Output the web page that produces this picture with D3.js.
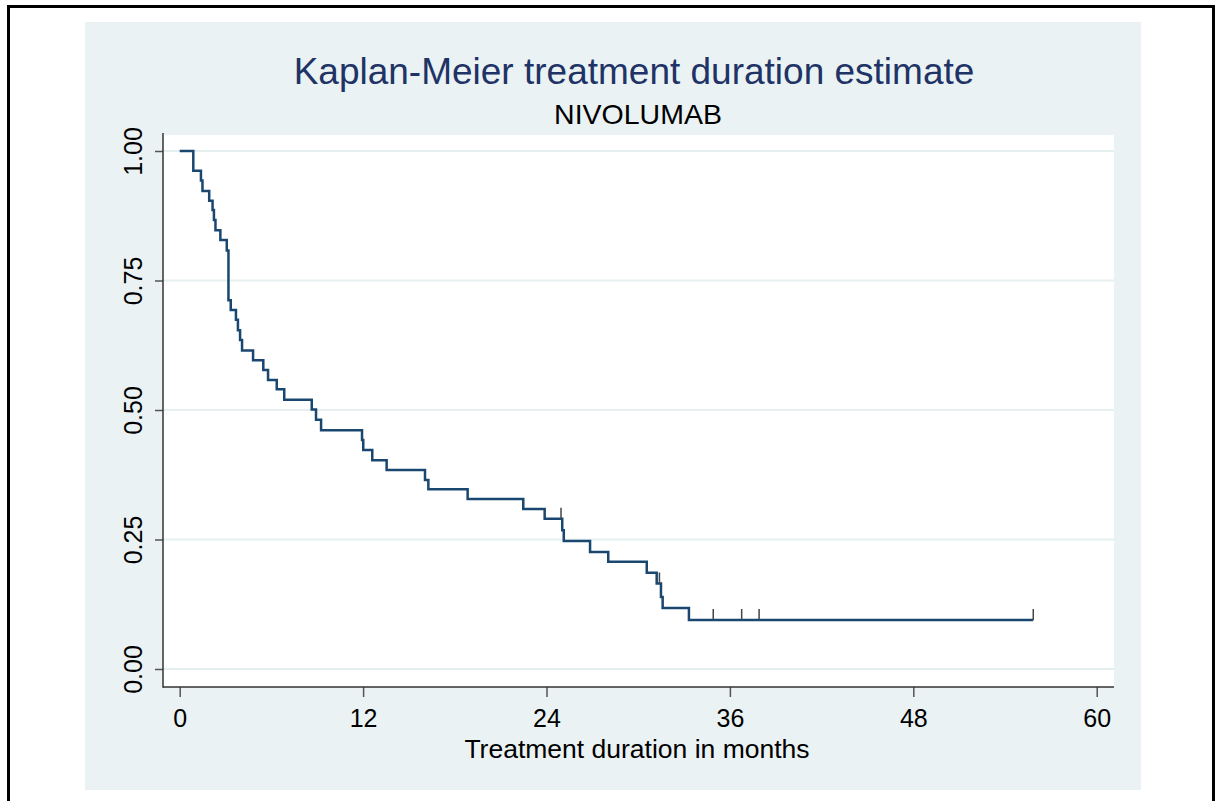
<!DOCTYPE html>
<html>
<head>
<meta charset="utf-8">
<script src="https://cdn.jsdelivr.net/npm/d3@7"></script>
<style>
  body { margin: 0; background: #fff; }
  svg text { font-family: "Liberation Sans", Arial, sans-serif; }
</style>
</head>
<body>
<div id="chart"></div>
<script>
// KM step data (months, survival after the drop)
var eventTimes = [0.89, 1.39, 1.49, 1.93, 2.15, 2.24, 2.34, 2.66, 3.08, 3.19,
  3.34, 3.68, 3.81, 3.95, 4.08, 4.80, 5.47, 5.78, 6.35, 6.84,
  8.64, 8.92, 9.25, 11.93, 12.01, 12.60, 13.54, 16.05, 16.27, 18.84,
  22.48, 23.88, 25.03, 25.13, 26.85, 28.04, 30.56, 31.21, 31.49, 31.60, 33.32];
var survival = [0.962, 0.943, 0.923, 0.904, 0.886, 0.867, 0.847, 0.828, 0.808, 0.712,
  0.693, 0.674, 0.654, 0.635, 0.615, 0.596, 0.577, 0.558, 0.540, 0.520,
  0.501, 0.481, 0.461, 0.442, 0.423, 0.403, 0.384, 0.365, 0.347, 0.328,
  0.309, 0.290, 0.268, 0.247, 0.226, 0.207, 0.186, 0.165, 0.139, 0.118, 0.0946];
var censorTimes = [24.95, 31.39, 34.91, 36.77, 37.91, 55.85];

var xTicks = [0, 12, 24, 36, 48, 60];
var yTicks = [0, 0.25, 0.5, 0.75, 1];

var titleText = "Kaplan-Meier treatment duration estimate";
var subtitleText = "NIVOLUMAB";
var xLabel = "Treatment duration in months";

var svgWidth = 1224;
var svgHeight = 801;

var svg = d3.select("#chart")
  .append("svg")
  .attr("width", svgWidth)
  .attr("height", svgHeight);

// outer frame + graph region
svg.append("rect")
  .attr("x", 8.5).attr("y", 6.5)
  .attr("width", 1205).attr("height", 800)
  .attr("fill", "#fff")
  .attr("stroke", "#000")
  .attr("stroke-width", 3);

svg.append("rect")
  .attr("x", 85).attr("y", 22)
  .attr("width", 1056).attr("height", 768)
  .attr("fill", "#eaf2f3");

var plot = { left: 163, right: 1114, top: 135, bottom: 687 };

svg.append("rect")
  .attr("x", plot.left).attr("y", plot.top)
  .attr("width", plot.right - plot.left)
  .attr("height", plot.bottom - plot.top)
  .attr("fill", "#fff");

var x = d3.scaleLinear().domain([0, 60]).range([179.7, 1096.7]);
var y = d3.scaleLinear().domain([0, 1]).range([669, 151]);

// gridlines
svg.append("g")
  .selectAll("line")
  .data(yTicks)
  .enter()
  .append("line")
  .attr("x1", plot.left).attr("x2", plot.right)
  .attr("y1", d => y(d)).attr("y2", d => y(d))
  .attr("stroke", "#e6eff0")
  .attr("stroke-width", 2);

// axes
var leftAxis = d3.axisLeft(y).tickValues(yTicks).tickFormat(d3.format(".2f")).tickSize(8).tickPadding(10);
var bottomAxis = d3.axisBottom(x).tickValues(xTicks).tickSize(10).tickPadding(8);

var gy = svg.append("g")
  .attr("transform", `translate(${plot.left}, 0)`)
  .call(leftAxis);
gy.select(".domain").remove();
gy.selectAll(".tick line").attr("stroke", "#555").attr("stroke-width", 1.5);
gy.selectAll(".tick text")
  .attr("x", null).attr("dy", null)
  .attr("text-anchor", "middle")
  .attr("transform", "translate(-21, 0) rotate(-90)")
  .attr("fill", "#000")
  .style("font-size", "25px");

var gx = svg.append("g")
  .attr("transform", `translate(0, ${plot.bottom})`)
  .call(bottomAxis);
gx.select(".domain").remove();
gx.selectAll(".tick line").attr("stroke", "#555").attr("stroke-width", 1.5);
gx.selectAll(".tick text")
  .attr("fill", "#000")
  .attr("dy", "0.88em")
  .style("font-size", "25px");

svg.append("line")
  .attr("x1", plot.left).attr("x2", plot.left)
  .attr("y1", 133).attr("y2", plot.bottom + 0.75)
  .attr("stroke", "#333").attr("stroke-width", 1.5);
svg.append("line")
  .attr("x1", plot.left).attr("x2", plot.right)
  .attr("y1", plot.bottom).attr("y2", plot.bottom)
  .attr("stroke", "#333").attr("stroke-width", 1.5);

// KM curve
var pts = [[0, 1]];
for (var i = 0; i < eventTimes.length; i++) {
  pts.push([eventTimes[i], survival[i]]);
}
var lastS = survival[survival.length - 1];
pts.push([d3.max(censorTimes), lastS]);

var line = d3.line()
  .x(d => x(d[0]))
  .y(d => y(d[1]))
  .curve(d3.curveStepAfter);

svg.append("path")
  .datum(pts)
  .attr("d", line)
  .attr("fill", "none")
  .attr("stroke", "#1a476f")
  .attr("stroke-width", 2.5);

// censor marks
function survAt(t) {
  var s = 1;
  for (var j = 0; j < eventTimes.length; j++) {
    if (eventTimes[j] <= t) s = survival[j];
  }
  return s;
}

svg.append("g")
  .selectAll("line")
  .data(censorTimes)
  .enter()
  .append("line")
  .attr("x1", d => x(d)).attr("x2", d => x(d))
  .attr("y1", d => y(survAt(d)))
  .attr("y2", d => y(survAt(d)) - 11)
  .attr("stroke", "#444")
  .attr("stroke-width", 1.5);

// titles
svg.append("text")
  .attr("x", 634).attr("y", 84)
  .attr("text-anchor", "middle")
  .attr("fill", "#1f3366")
  .style("font-size", "37px")
  .text(titleText);

svg.append("text")
  .attr("x", 638).attr("y", 124)
  .attr("text-anchor", "middle")
  .attr("fill", "#000")
  .style("font-size", "28.5px")
  .text(subtitleText);

svg.append("text")
  .attr("x", 637).attr("y", 758)
  .attr("text-anchor", "middle")
  .attr("fill", "#000")
  .style("font-size", "26.5px")
  .text(xLabel);
</script>
</body>
</html>
